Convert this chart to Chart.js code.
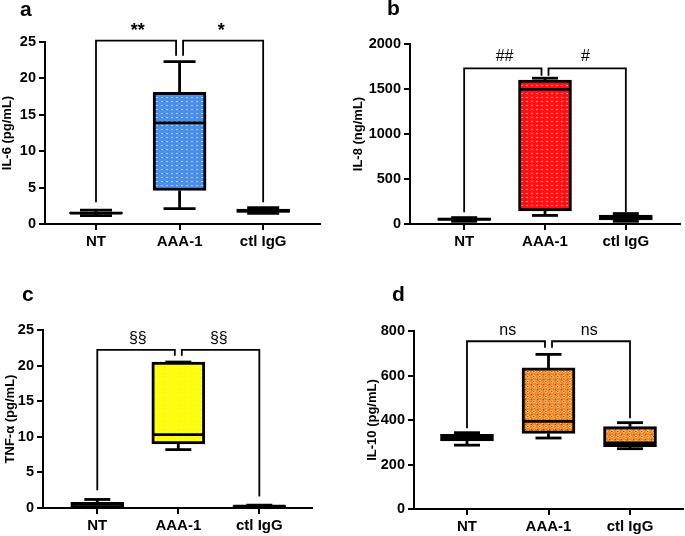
<!DOCTYPE html>
<html>
<head>
<meta charset="utf-8">
<script src="https://cdn.jsdelivr.net/npm/chart.js@4.4.1/dist/chart.umd.min.js"></script>
<style>
  body { margin: 0; background: #fff; }
  #wrap { position: relative; width: 685px; height: 536px; background: #fff; }
  canvas { position: absolute; }
  .lbl { position: absolute; font: bold 21px "Liberation Sans", Arial, sans-serif; color: #000; }
</style>
</head>
<body>
<div id="wrap">
  <canvas id="chartA" width="340" height="265" style="left:0;top:0"></canvas>
  <canvas id="chartB" width="345" height="265" style="left:340px;top:0"></canvas>
  <canvas id="chartC" width="340" height="266" style="left:0;top:270px"></canvas>
  <canvas id="chartD" width="345" height="266" style="left:340px;top:270px"></canvas>
  <div class="lbl" style="left:20px;top:-3px">a</div>
  <div class="lbl" style="left:387px;top:-4px">b</div>
  <div class="lbl" style="left:22px;top:282px">c</div>
  <div class="lbl" style="left:392px;top:282px">d</div>
</div>
<script>
// groups on the x axis
const categories = ['NT', 'AAA-1', 'ctl IgG'];

// a: IL-6 (pg/mL)
const il6Min = [1.15, 2.1, 1.45];
const il6Q1  = [1.4, 4.6, 1.6];
const il6Med = [1.5, 13.9, 1.8];
const il6Q3  = [1.65, 18.1, 2.05];
const il6Max = [1.9, 22.3, 2.25];
const il6Ticks = [0, 5, 10, 15, 20, 25];
const il6Bracket = [25.2, 23.1, 3.0, 3.0];   // top, inner legs, NT leg, ctl leg
const il6Sig = ['**', '*'];

// b: IL-8 (ng/mL)
const il8Min = [30, 95, 30];
const il8Q1  = [40, 145, 45];
const il8Med = [55, 1495, 75];
const il8Q3  = [65, 1600, 100];
const il8Max = [71, 1620, 116];
const il8Ticks = [0, 500, 1000, 1500, 2000];
const il8Bracket = [1729, 1647, 130, 130];
const il8Sig = ['##', '#'];

// c: TNF-α (pg/mL)
const tnfMin = [0.05, 8.2, 0.05];
const tnfQ1  = [0.1, 9.0, 0.1];
const tnfMed = [0.5, 10.3, 0.25];
const tnfQ3  = [0.8, 20.5, 0.35];
const tnfMax = [1.2, 20.5, 0.4];
const tnfTicks = [0, 5, 10, 15, 20, 25];
const tnfBracket = [22.2, 21.4, 2.5, 1.6];
const tnfSig = ['§§', '§§'];

// d: IL-10 (pg/mL)
const il10Min = [287, 319, 271];
const il10Q1  = [306, 340, 280];
const il10Med = [318, 394, 297];
const il10Q3  = [336, 634, 370];
const il10Max = [343, 695, 388];
const il10Ticks = [0, 200, 400, 600, 800];
const il10Bracket = [754, 725, 363, 408];
const il10Sig = ['ns', 'ns'];

const FONT = '"Liberation Sans", Arial, sans-serif';

function makePattern(base, light, dark, w, h, dots, darkDots) {
    const c = document.createElement('canvas');
    c.width = w; c.height = h;
    const g = c.getContext('2d');
    g.fillStyle = base;
    g.fillRect(0, 0, w, h);
    g.fillStyle = light;
    dots.forEach(d => g.fillRect(d[0], d[1], d[2], d[3]));
    if (darkDots) {
        g.fillStyle = dark;
        darkDots.forEach(d => g.fillRect(d[0], d[1], d[2], d[3]));
    }
    return g.createPattern(c, 'repeat');
}

function boxPlugin(st) {
    return {
        id: 'boxParts',
        afterDatasetsDraw(chart) {
            const ctx = chart.ctx, xs = chart.scales.x, ys = chart.scales.y;
            ctx.save();
            ctx.strokeStyle = '#000';
            ctx.lineWidth = 2.8;
            categories.forEach((c, i) => {
                const x = xs.getPixelForValue(i);
                const half = st.cap / 2;
                const lines = [
                    [x, ys.getPixelForValue(st.q3[i]), x, ys.getPixelForValue(st.max[i])],
                    [x - half, ys.getPixelForValue(st.max[i]), x + half, ys.getPixelForValue(st.max[i])],
                    [x, ys.getPixelForValue(st.q1[i]), x, ys.getPixelForValue(st.min[i])],
                    [x - half, ys.getPixelForValue(st.min[i]), x + half, ys.getPixelForValue(st.min[i])],
                    [x - 26, ys.getPixelForValue(st.med[i]), x + 26, ys.getPixelForValue(st.med[i])]
                ];
                lines.forEach(l => {
                    ctx.beginPath();
                    ctx.moveTo(l[0], l[1]);
                    ctx.lineTo(l[2], l[3]);
                    ctx.stroke();
                });
            });
            // significance brackets
            const b = st.bracket;
            const yTop = ys.getPixelForValue(b[0]);
            const yIn = ys.getPixelForValue(b[1]);
            const x0 = xs.getPixelForValue(0), x1 = xs.getPixelForValue(1), x2 = xs.getPixelForValue(2);
            ctx.lineWidth = 1.8;
            ctx.beginPath();
            ctx.moveTo(x0, ys.getPixelForValue(b[2]));
            ctx.lineTo(x0, yTop);
            ctx.lineTo(x1 - 3.5, yTop);
            ctx.lineTo(x1 - 3.5, yIn);
            ctx.moveTo(x1 + 3.5, yIn);
            ctx.lineTo(x1 + 3.5, yTop);
            ctx.lineTo(x2, yTop);
            ctx.lineTo(x2, ys.getPixelForValue(b[3]));
            ctx.stroke();
            ctx.fillStyle = '#000';
            ctx.font = st.sigFont;
            ctx.textAlign = 'center';
            ctx.textBaseline = 'middle';
            ctx.fillText(st.sig[0], (x0 + x1) / 2, yTop - st.sigGap);
            ctx.fillText(st.sig[1], (x1 + x2) / 2, yTop - st.sigGap);
            ctx.restore();
        }
    };
}

function makeBoxChart(id, st) {
    const el = document.getElementById(id);
    return new Chart(el, {
        type: 'bar',
        data: {
            datasets: [{
                data: categories.map((c, i) => ({ x: i, y: [st.q1[i], st.q3[i]] })),
                backgroundColor: st.fill,
                borderColor: '#000',
                borderWidth: 3,
                borderSkipped: false,
                barThickness: 53
            }]
        },
        options: {
            responsive: false,
            animation: false,
            layout: { padding: { left: 0, top: st.top, right: st.right, bottom: 0 } },
            plugins: { legend: { display: false }, tooltip: { enabled: false } },
            scales: {
                x: {
                    type: 'linear',
                    offset: false,
                    min: st.xMin, max: st.xMax,
                    afterBuildTicks: s => { s.ticks = categories.map((c, i) => ({ value: i })); },
                    afterFit: s => { s.height = st.xh; },
                    ticks: {
                        callback: v => categories[v],
                        color: '#000', padding: 3, maxRotation: 0, autoSkip: false,
                        font: { family: FONT, size: 15, weight: 'bold' }
                    },
                    grid: { offset: false, drawOnChartArea: false, tickLength: 6, color: '#000', lineWidth: 2 },
                    border: { color: '#000', width: 2 }
                },
                y: {
                    min: 0, max: st.ticks[st.ticks.length - 1],
                    afterBuildTicks: s => { s.ticks = st.ticks.map(v => ({ value: v })); },
                    afterFit: s => { s.width = st.left; },
                    ticks: {
                        callback: v => String(v),
                        color: '#000', padding: 3,
                        font: { family: FONT, size: 14.5, weight: 'bold' }
                    },
                    grid: { drawOnChartArea: false, tickLength: 6, color: '#000', lineWidth: 2 },
                    border: { color: '#000', width: 2 },
                    title: {
                        display: true, text: st.title, color: '#000',
                        font: { family: FONT, size: 13, weight: 'bold' },
                        padding: { top: st.titlePad, bottom: 0 }
                    }
                }
            }
        },
        plugins: [boxPlugin(st)]
    });
}

makeBoxChart('chartA', {
    min: il6Min, q1: il6Q1, med: il6Med, q3: il6Q3, max: il6Max, ticks: il6Ticks,
    bracket: il6Bracket, sig: il6Sig, sigFont: 'bold 18px ' + FONT, sigGap: 10,
    title: 'IL-6 (pg/mL)', titlePad: 0, cap: 32,
    left: 45, top: 42, right: 20, xh: 41, xMin: -0.61, xMax: 2.68,
    fill: makePattern('#4a90e8', '#a9cdf7', null, 5, 4, [[1, 1, 2, 1]])
});

makeBoxChart('chartB', {
    min: il8Min, q1: il8Q1, med: il8Med, q3: il8Q3, max: il8Max, ticks: il8Ticks,
    bracket: il8Bracket, sig: il8Sig, sigFont: '16px ' + FONT, sigGap: 12,
    title: 'IL-8 (ng/mL)', titlePad: 11, cap: 26,
    left: 70, top: 44, right: 5, xh: 41, xMin: -0.67, xMax: 2.67,
    fill: makePattern('#ff1212', '#ff9a9a', null, 5, 4, [[1, 1, 2, 1]])
});

makeBoxChart('chartC', {
    min: tnfMin, q1: tnfQ1, med: tnfMed, q3: tnfQ3, max: tnfMax, ticks: tnfTicks,
    bracket: tnfBracket, sig: tnfSig, sigFont: '16px ' + FONT, sigGap: 11,
    title: 'TNF-α (pg/mL)', titlePad: 3, cap: 26,
    left: 43, top: 60, right: 28, xh: 28, xMin: -0.67, xMax: 2.65,
    fill: makePattern('#ffff00', '#ffffa8', null, 5, 4, [[1, 1, 2, 1]])
});

makeBoxChart('chartD', {
    min: il10Min, q1: il10Q1, med: il10Med, q3: il10Q3, max: il10Max, ticks: il10Ticks,
    bracket: il10Bracket, sig: il10Sig, sigFont: '16px ' + FONT, sigGap: 11,
    title: 'IL-10 (pg/mL)', titlePad: 25, cap: 26,
    left: 74, top: 61, right: 2, xh: 27, xMin: -0.65, xMax: 2.65,
    fill: makePattern('#f5861f', '#fbc48e', '#9a4a08', 6, 5,
        [[1, 0, 2, 1], [0, 1, 1, 1], [3, 1, 1, 1], [1, 2, 2, 1], [4, 3, 1, 1]], [[1, 1, 1, 1], [5, 4, 1, 1]])
});
</script>
</body>
</html>
